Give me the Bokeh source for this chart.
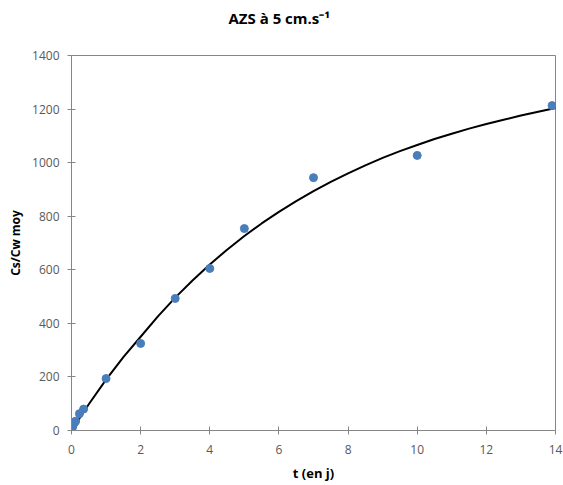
from bokeh.plotting import figure
from bokeh.embed import file_html
from bokeh.resources import INLINE
from bokeh.models import Range1d, FixedTicker, Title

# Measured points (t in days, Cs/Cw moy)
t_obs = [0.0, 0.02, 0.04, 0.08, 0.12, 0.23, 0.35, 1.0, 2.0, 3.0, 4.0, 5.0, 7.0, 10.0, 13.9]
c_obs = [0, 8, 18, 28, 35, 63, 80, 194, 325, 493, 605, 754, 944, 1027, 1213]

# Fitted curve
t_fit = [0, 0.5, 1, 1.5, 2, 2.5, 3, 3.5, 4, 4.5, 5, 5.5, 6, 6.5, 7, 7.5, 8, 8.5, 9, 9.5,
         10, 10.5, 11, 11.5, 12, 12.5, 13, 13.5, 14]
c_fit = [0, 98, 190, 274, 350, 426, 496, 560, 620, 675, 726, 773, 816, 856, 894, 928, 960,
         990, 1018, 1043, 1066, 1088, 1108, 1127, 1144, 1160, 1176, 1190, 1204]

x_ticks = [0, 2, 4, 6, 8, 10, 12, 14]
y_ticks = [0, 200, 400, 600, 800, 1000, 1200, 1400]

TITLE = "AZS à 5 cm.s\u207b\u00b9"
FONT = "Open Sans"
GRAY = "#868686"

p = figure(width=563, height=485, output_backend="svg", toolbar_location=None,
           x_range=Range1d(0, 14), y_range=Range1d(0, 1400),
           min_border_left=71, min_border_right=8, min_border_top=55, min_border_bottom=55)

# spacer between frame and title (closest to the frame)
p.add_layout(Title(text=" ", text_font_size="1px", standoff=25), "above")

p.title.text = TITLE
p.title.align = "left"
p.title.offset = 157
p.title.standoff = 0
p.title.text_font = FONT
p.title.text_font_size = "15px"
p.title.text_font_style = "bold"
p.title.text_color = "#000000"

p.xgrid.visible = False
p.ygrid.visible = False
p.outline_line_color = GRAY
p.outline_line_width = 1

for ax in (p.xaxis[0], p.yaxis[0]):
    ax.axis_line_color = GRAY
    ax.major_tick_line_color = GRAY
    ax.minor_tick_line_color = None
    ax.major_tick_in = 4
    ax.major_tick_out = 4
    ax.major_label_text_font = FONT
    ax.major_label_text_font_size = "12px"
    ax.major_label_text_color = "#595959"
    ax.axis_label_text_font = FONT
    ax.axis_label_text_font_style = "bold"
    ax.axis_label_text_color = "#000000"

p.xaxis.axis_label_text_font_size = "13px"
p.yaxis.axis_label_text_font_size = "12px"
p.xaxis.ticker = FixedTicker(ticks=x_ticks)
p.yaxis.ticker = FixedTicker(ticks=y_ticks)
p.xaxis.axis_label = "t (en j)"
p.yaxis.axis_label = "Cs/Cw moy"
p.xaxis.major_label_standoff = 10
p.yaxis.major_label_standoff = 8
p.xaxis.axis_label_standoff = 7
p.yaxis.axis_label_standoff = 5

p.line(t_fit, c_fit, line_color="black", line_width=2)
p.scatter(t_obs, c_obs, size=8, fill_color="#4A7EBB", line_color="#4A7EBB")

open("out.html", "w").write(file_html(p, INLINE))
